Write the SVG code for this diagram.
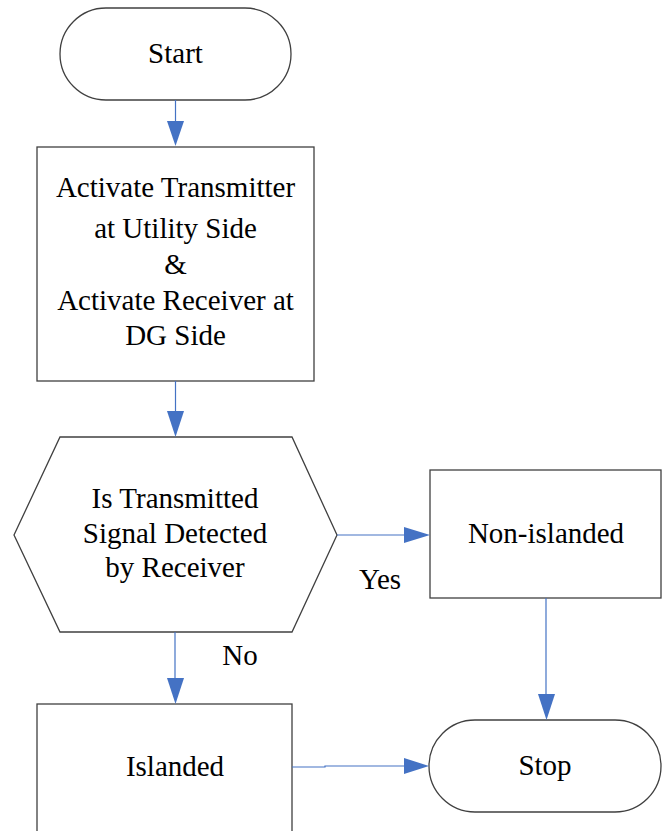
<svg xmlns="http://www.w3.org/2000/svg" width="662" height="831" viewBox="0 0 662 831">
<style>
.s{fill:#fff;stroke:#404040;stroke-width:1.3}
.t{font-family:"Liberation Serif","Times New Roman",serif;font-size:29px;fill:#000;text-anchor:middle}
.c{stroke:#4472C4;stroke-width:1.2;fill:none}
.a{fill:#4472C4}
</style>
<rect width="662" height="831" fill="#fff"/>
<g id="start"><rect class="s" x="60" y="8" width="231" height="92" rx="46"/><text class="t" x="175.5" y="63">Start</text></g>
<g id="activate"><rect class="s" x="37" y="147" width="277" height="234"/>
<text class="t" x="175.5" y="197">Activate Transmitter</text>
<text class="t" x="175.5" y="238">at Utility Side</text>
<text class="t" x="175.5" y="274">&amp;</text>
<text class="t" x="175.5" y="310">Activate Receiver at</text>
<text class="t" x="175.5" y="345">DG Side</text></g>
<g id="decision"><polygon class="s" points="60,437 292,437 337,535 292,632 60,632 14,535"/>
<text class="t" x="175" y="508">Is Transmitted</text>
<text class="t" x="175" y="543">Signal Detected</text>
<text class="t" x="175" y="577">by Receiver</text></g>
<g id="nonislanded"><rect class="s" x="430" y="470" width="231" height="128"/><text class="t" x="546" y="543">Non-islanded</text></g>
<g id="islanded"><rect class="s" x="37" y="704" width="255" height="130"/><text class="t" x="175" y="776">Islanded</text></g>
<g id="stop"><rect class="s" x="429" y="720" width="232" height="92" rx="46"/><text class="t" x="545" y="775">Stop</text></g>
<g id="connectors">
<path class="c" d="M175.5,100V122"/><polygon class="a" points="167,121 184,121 175.5,146"/>
<path class="c" d="M175.5,381V412"/><polygon class="a" points="167,411 184,411 175.5,437"/>
<path class="c" d="M337,535H405"/><polygon class="a" points="404,527 404,543 430,535"/>
<path class="c" d="M175,632V679"/><polygon class="a" points="167,678 184,678 175.5,704"/>
<path class="c" d="M546,598V695"/><polygon class="a" points="538,694 555,694 546.5,720"/>
<path class="c" d="M292,767H325V766H405"/><polygon class="a" points="404,758 404,774 429,766"/>
</g>
<text class="t" x="380" y="589">Yes</text>
<text class="t" x="240" y="665">No</text>
</svg>
